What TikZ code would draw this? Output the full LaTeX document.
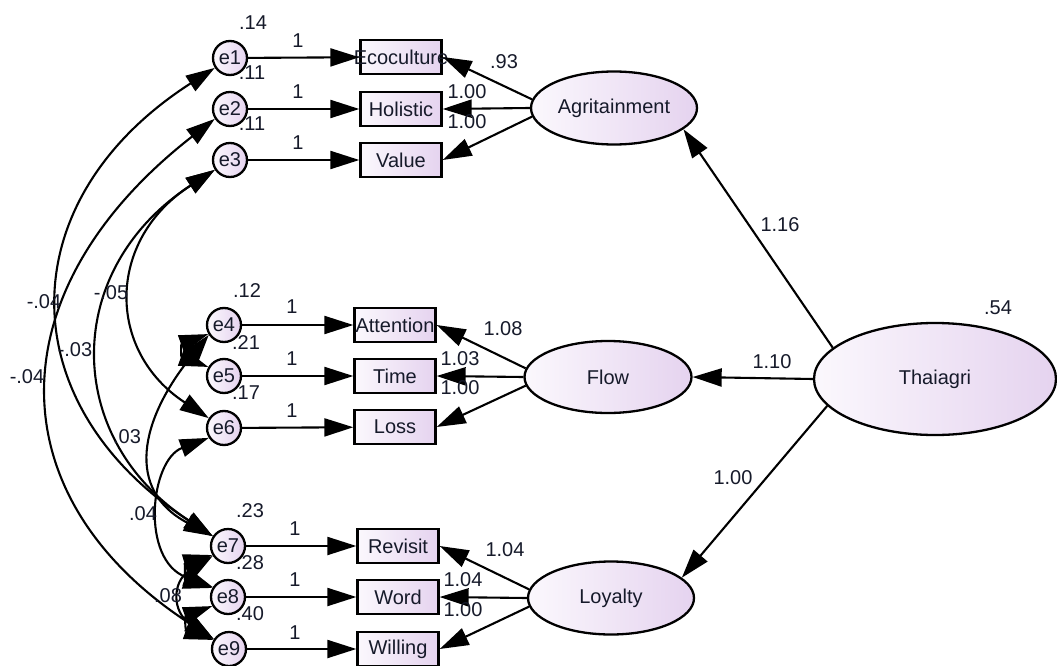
\documentclass[tikz,border=0pt]{standalone}
\usepackage{fontspec}
\setmainfont{Liberation Sans}
\usetikzlibrary{arrows.meta,shapes.geometric}
\definecolor{lavL}{RGB}{251,248,253}
\definecolor{lavR}{RGB}{229,211,239}
\definecolor{txt}{RGB}{22,26,42}
\begin{document}
\begin{tikzpicture}[x=1pt,y=-1pt,
  font=\fontsize{20}{22}\selectfont,
  ind/.style={draw, line width=2.3pt, left color=lavL, right color=lavR, minimum width=81pt, minimum height=34pt, inner sep=0pt, text=txt},
  err/.style={circle, draw, line width=2.3pt, left color=lavL, right color=lavR, minimum size=34pt, inner sep=0pt, text=txt},
  lat/.style={ellipse, draw, line width=2.3pt, left color=lavL, right color=lavR, inner sep=0pt, text=txt},
  arr/.style={line width=2.1pt, -{Triangle[length=29pt,width=18pt]}},
  cov/.style={line width=2.1pt, {Triangle[length=29pt,width=18pt]}-{Triangle[length=29pt,width=18pt]}},
  lbl/.style={inner sep=0pt, text=txt}]
\useasboundingbox (0,0) rectangle (1057,666);
\fill[white] (0,0) rectangle (1057,666);

% latent variables
\node[lat, minimum width=166pt, minimum height=73pt] (agr) at (614,108) {Agritainment};
\node[lat, minimum width=167pt, minimum height=72pt] (flow) at (608,377) {Flow};
\node[lat, minimum width=166pt, minimum height=73pt] (loy) at (611,598) {Loyalty};
\node[lat, minimum width=242pt, minimum height=112pt] (thai) at (935,379) {Thaiagri};

% indicators
\node[ind] (eco) at (401,57) {\makebox[60pt]{Ecoculture}};
\node[ind] (hol) at (401,109) {Holistic};
\node[ind] (val) at (401,160) {Value};
\node[ind] (att) at (395,325) {Attention};
\node[ind] (tim) at (395,376) {Time};
\node[ind] (los) at (395,427) {Loss};
\node[ind] (rev) at (398,546) {Revisit};
\node[ind] (wor) at (398,597) {Word};
\node[ind] (wil) at (398,649) {Willing};

% errors
\node[err] (e1) at (230,58) {e1};
\node[err] (e2) at (230,109) {e2};
\node[err] (e3) at (230,160) {e3};
\node[err] (e4) at (224,325) {e4};
\node[err] (e5) at (224,376) {e5};
\node[err] (e6) at (224,428) {e6};
\node[err] (e7) at (228,546) {e7};
\node[err] (e8) at (228,597) {e8};
\node[err] (e9) at (229,649) {e9};

% error paths
\draw[arr] (e1) -- (eco);
\draw[arr] (e2) -- (hol);
\draw[arr] (e3) -- (val);
\draw[arr] (e4) -- (att);
\draw[arr] (e5) -- (tim);
\draw[arr] (e6) -- (los);
\draw[arr] (e7) -- (rev);
\draw[arr] (e8) -- (wor);
\draw[arr] (e9) -- (wil);

% loadings
\draw[arr] (agr.174) -- (eco.east);
\draw[arr] (agr.west) -- (hol.east);
\draw[arr] (agr.186) -- (val.east);
\draw[arr] (flow.174) -- (att.east);
\draw[arr] (flow.west) -- (tim.east);
\draw[arr] (flow.186) -- (los.east);
\draw[arr] (loy.174) -- (rev.east);
\draw[arr] (loy.west) -- (wor.east);
\draw[arr] (loy.186) -- (wil.east);

% structural paths
\draw[arr] (thai.163) -- (agr.343);
\draw[arr] (thai.west) -- (flow.east);
\draw[arr] (thai.194) -- (loy.16);

% covariances
\draw[cov] (e1.213) .. controls (9,200) and (9,404) .. (e7.147);
\draw[cov] (e2.213) .. controls (-5,290) and (-5,497) .. (e9.147);
\draw[cov] (e3.213) .. controls (106,240) and (106,351) .. (e6.147);
\draw[cov] (e3.213) .. controls (62,269) and (62,438) .. (e7.147);
\draw[cov] (e4.213) .. controls (140,420) and (125,490) .. (e7.147);
\draw[cov] (e6.213) .. controls (150,460) and (140,560) .. (e8.147);
\draw[cov] (e7.213) .. controls (172,582) and (172,612) .. (e9.147);
\draw[cov] (e4.210) .. controls (181,344) and (181,357) .. (e5.150);
\draw[cov] (e7.210) .. controls (185,563) and (185,580) .. (e8.150);
\draw[cov] (e8.210) .. controls (185,616) and (185,630) .. (e9.150);

% variance labels
\node[lbl] (v1) at (253,23) {.14};
\node[lbl] (v2) at (252,73) {.11};
\node[lbl] (v3) at (252,124) {.11};
\node[lbl] (v4) at (247,291) {.12};
\node[lbl] (v5) at (246,343) {.21};
\node[lbl] (v6) at (246,393) {.17};
\node[lbl] (v7) at (250,511) {.23};
\node[lbl] (v8) at (250,563) {.28};
\node[lbl] (v9) at (250,614) {.40};
\node[lbl] (vt) at (998,308) {.54};

% fixed weights
\node[lbl] (w1) at (298,41) {1};
\node[lbl] (w2) at (298,92) {1};
\node[lbl] (w3) at (298,143) {1};
\node[lbl] (w4) at (292,307) {1};
\node[lbl] (w5) at (292,359) {1};
\node[lbl] (w6) at (292,411) {1};
\node[lbl] (w7) at (295,529) {1};
\node[lbl] (w8) at (295,580) {1};
\node[lbl] (w9) at (295,633) {1};

% loading labels
\node[lbl] (la1) at (504,62) {.93};
\node[lbl] (la2) at (467,92) {1.00};
\node[lbl] (la3) at (467,122) {1.00};
\node[lbl] (lf1) at (503,329) {1.08};
\node[lbl] (lf2) at (460,359) {1.03};
\node[lbl] (lf3) at (460,388) {1.00};
\node[lbl] (ll1) at (505,550) {1.04};
\node[lbl] (ll2) at (463,580) {1.04};
\node[lbl] (ll3) at (463,610) {1.00};
\node[lbl] (s1) at (780,225) {1.16};
\node[lbl] (s2) at (772,362) {1.10};
\node[lbl] (s3) at (733,478) {1.00};

% covariance labels
\node[lbl] (c1) at (44,302) {-.04};
\node[lbl] (c2) at (111,293) {-.05};
\node[lbl] (c3) at (75,350) {-.03};
\node[lbl] (c4) at (27,377) {-.04};
\node[lbl] (c5) at (127,437) {.03};
\node[lbl] (c6) at (143,514) {.04};
\node[lbl] (c7) at (168,596) {.08};
\end{tikzpicture}
\end{document}
